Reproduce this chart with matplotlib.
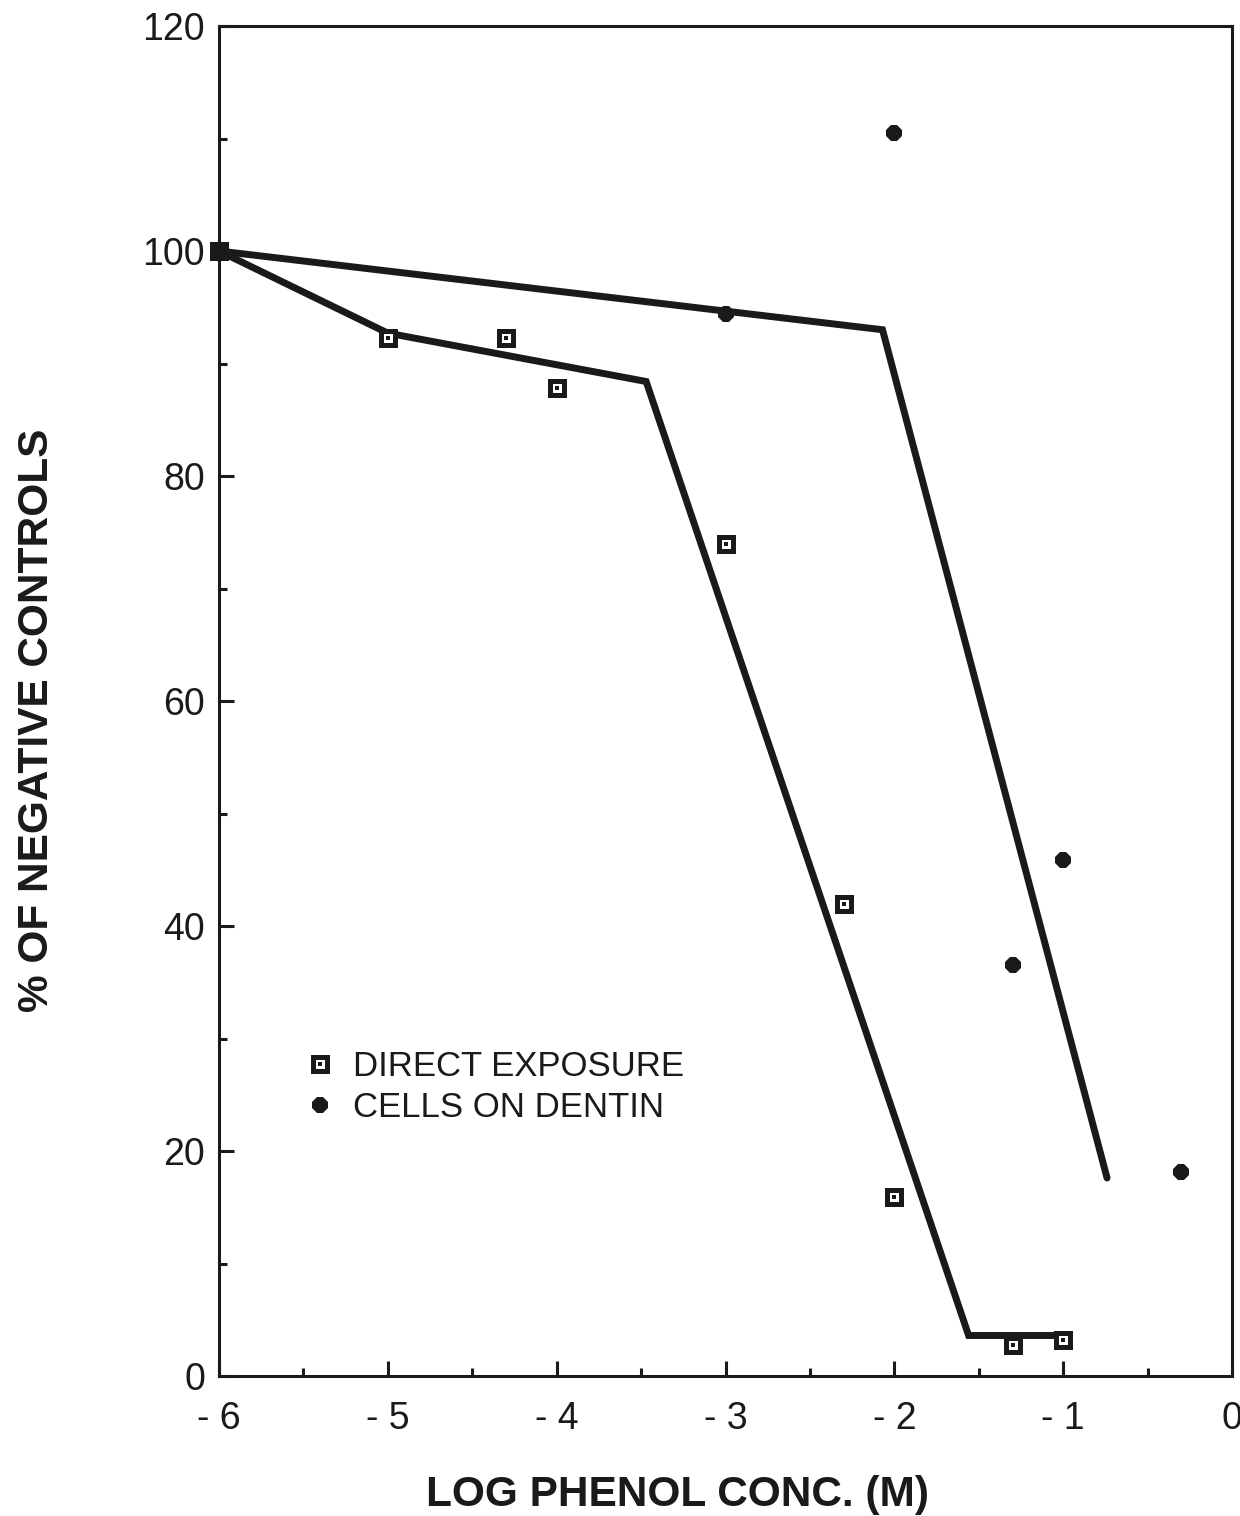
import matplotlib
matplotlib.use("Agg")
import matplotlib.pyplot as plt
from matplotlib.legend_handler import HandlerTuple

# ---- data ----
direct_x = [-6, -5, -4.3, -4, -3, -2.3, -2, -1.3, -1]
direct_y = [100, 92.3, 92.3, 87.8, 74.0, 42.0, 15.9, 2.8, 3.2]
dentin_x = [-6, -3, -2, -1.3, -1, -0.3]
dentin_y = [100, 94.4, 110.5, 36.5, 45.9, 18.1]

direct_fit_x = [-6, -5, -3.47, -1.56, -0.97]
direct_fit_y = [100, 92.7, 88.4, 3.6, 3.6]
dentin_fit_x = [-6, -2.07, -0.74]
dentin_fit_y = [100, 93.0, 17.6]

xticks = [-6, -5, -4, -3, -2, -1, 0]
xtick_labels = ["- 6", "- 5", "- 4", "- 3", "- 2", "- 1", "0"]
yticks = [0, 20, 40, 60, 80, 100, 120]
ytick_labels = ["0", "20", "40", "60", "80", "100", "120"]

legend_labels = ["DIRECT EXPOSURE", "CELLS ON DENTIN"]
xlabel = "LOG PHENOL CONC. (M)"
ylabel = "% OF NEGATIVE CONTROLS"

plt.rcParams['font.family'] = ['Liberation Sans', 'DejaVu Sans']

W, H = 1240, 1516
fig = plt.figure(figsize=(W / 100, H / 100), dpi=100)
ax = fig.add_axes([219 / W, 1 - 1376 / H, (1232 - 219) / W, (1376 - 26) / H])

ink = "#1a1a1a"

ax.plot(direct_fit_x, direct_fit_y, color=ink, lw=5, solid_joinstyle='miter',
        solid_capstyle='round', zorder=2)
ax.plot(dentin_fit_x, dentin_fit_y, color=ink, lw=5, solid_joinstyle='miter',
        solid_capstyle='round', zorder=2)

sq_outer, = ax.plot(direct_x, direct_y, ls='none', marker='s', ms=9.5, mew=3.6,
                    mfc='white', mec=ink, zorder=4, clip_on=False)
sq_dot, = ax.plot(direct_x, direct_y, ls='none', marker='s', ms=2.4, mew=0,
                  mfc=ink, zorder=5, clip_on=False)
dent, = ax.plot(dentin_x, dentin_y, ls='none', marker='8', ms=13, mew=0,
                mfc=ink, zorder=6, clip_on=False)

ax.set_xlim(-6, 0)
ax.set_ylim(0, 120)
ax.set_xticks(xticks)
ax.set_xticklabels(xtick_labels)
ax.set_yticks(yticks)
ax.set_yticklabels(ytick_labels)
ax.set_xticks([-5.5, -4.5, -3.5, -2.5, -1.5, -0.5], minor=True)
ax.set_yticks([10, 30, 50, 70, 90, 110], minor=True)

for s in ax.spines.values():
    s.set_linewidth(2.2)
    s.set_color(ink)

ax.tick_params(axis='both', which='major', direction='in', length=11, width=2.2,
               colors=ink, labelsize=27, labelcolor=ink)
ax.tick_params(axis='both', which='minor', direction='in', length=6, width=2.2,
               colors=ink)
ax.tick_params(axis='x', which='major', pad=18)
ax.tick_params(axis='y', which='major', pad=10)
ax.tick_params(top=False, right=False, which='both')

fig.text(677 / W, 1 - 1495 / H, xlabel, ha='center', va='center',
         fontsize=30.5, fontweight='bold', color=ink)
fig.text(37 / W, 1 - 720 / H, ylabel, ha='center', va='center', rotation=90,
         fontsize=30.5, fontweight='bold', color=ink)

leg = ax.legend(handles=[(sq_outer, sq_dot), dent], labels=legend_labels,
                handler_map={tuple: HandlerTuple(ndivide=1, pad=0)},
                loc='center left', bbox_to_anchor=(303 / W, 1 - 1087 / H),
                bbox_transform=fig.transFigure, frameon=False, fontsize=25,
                handlelength=1.0, handletextpad=0.45, labelspacing=0.25,
                borderpad=0, borderaxespad=0, numpoints=1)
for t in leg.get_texts():
    t.set_color(ink)

fig.savefig("out.png", dpi=100)
